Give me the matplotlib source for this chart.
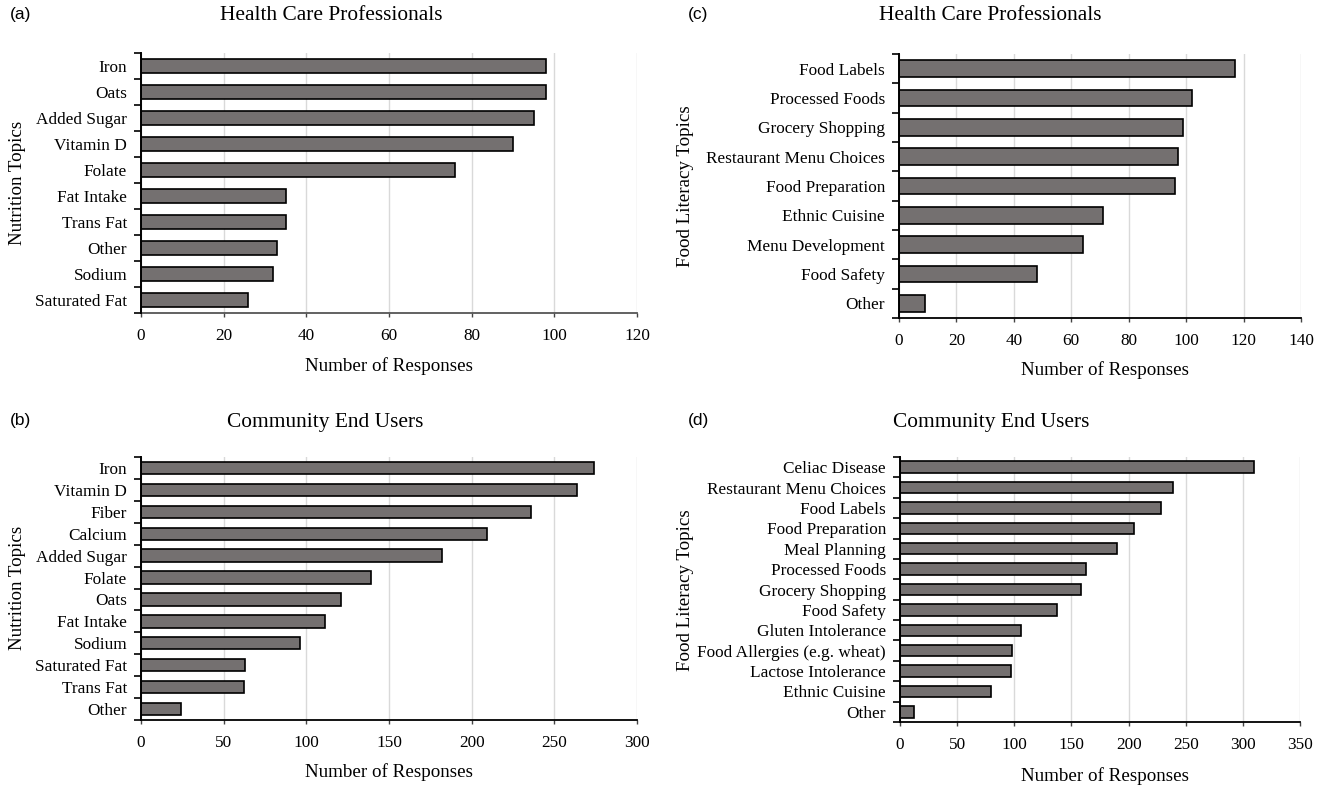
import matplotlib
matplotlib.use("Agg")
import matplotlib.pyplot as plt
import numpy as np

# ---------------- data ----------------
a_labels = ["Iron", "Oats", "Added Sugar", "Vitamin D", "Folate", "Fat Intake",
            "Trans Fat", "Other", "Sodium", "Saturated Fat"]
a_values = [98, 98, 95, 90, 76, 35, 35, 33, 32, 26]

b_labels = ["Iron", "Vitamin D", "Fiber", "Calcium", "Added Sugar", "Folate", "Oats",
            "Fat Intake", "Sodium", "Saturated Fat", "Trans Fat", "Other"]
b_values = [274, 264, 236, 209, 182, 139, 121, 111, 96, 63, 62, 24]

c_labels = ["Food Labels", "Processed Foods", "Grocery Shopping", "Restaurant Menu Choices",
            "Food Preparation", "Ethnic Cuisine", "Menu Development", "Food Safety", "Other"]
c_values = [117, 102, 99, 97, 96, 71, 64, 48, 9]

d_labels = ["Celiac Disease", "Restaurant Menu Choices", "Food Labels", "Food Preparation",
            "Meal Planning", "Processed Foods", "Grocery Shopping", "Food Safety",
            "Gluten Intolerance", "Food Allergies (e.g. wheat)", "Lactose Intolerance",
            "Ethnic Cuisine", "Other"]
d_values = [310, 239, 228, 205, 190, 163, 158, 137, 106, 98, 97, 80, 12]

W, H = 1332, 791
fig = plt.figure(figsize=(W / 100, H / 100), dpi=100)

SERIF = ["Liberation Serif", "DejaVu Serif"]
SANS = ["Liberation Sans", "DejaVu Sans"]
BAR = "#747070"
GRID = "#d9d9d9"


def fx(px):
    return px / W


def fy(py):
    return 1 - py / H


def panel(box, labels, values, xmax, step, title, title_xy, letter, letter_xy,
          ylabel, ylabel_xy, xlabel_xy, bottom_color="black"):
    l, t, r, b = box
    ax = fig.add_axes([fx(l), fy(b), fx(r) - fx(l), fy(t) - fy(b)])
    n = len(labels)
    y = np.arange(n)
    ax.barh(y, values, height=0.56, color=BAR, edgecolor="black", linewidth=1.2, zorder=3)
    ax.set_ylim(n - 0.5, -0.5)
    ax.set_xlim(0, xmax)
    ax.set_xticks(np.arange(0, xmax + 1, step))
    ax.set_yticks(y)
    ax.set_yticklabels(labels, fontfamily=SERIF, fontsize=12.4)
    ax.set_yticks(np.arange(-0.5, n, 1.0), minor=True)
    ax.tick_params(axis="y", which="major", length=0, pad=10)
    ax.tick_params(axis="y", which="minor", length=5, width=1.2, direction="out")
    ax.tick_params(axis="x", which="major", length=3, width=1, direction="out",
                   color="#444444", labelsize=12.4, pad=8)
    for lab in ax.get_xticklabels():
        lab.set_fontfamily(SERIF)
    ax.grid(axis="x", color=GRID, linewidth=1, zorder=0)
    ax.set_axisbelow(True)
    for s in ["top", "right"]:
        ax.spines[s].set_visible(False)
    ax.spines["left"].set_linewidth(1.4)
    ax.spines["bottom"].set_linewidth(1.3)
    ax.spines["bottom"].set_color(bottom_color)
    ax.spines["left"].set_zorder(4)
    fig.text(fx(title_xy[0]), fy(title_xy[1]), title, ha="center", va="center",
             fontfamily=SERIF, fontsize=15.4)
    fig.text(fx(letter_xy[0]), fy(letter_xy[1]), letter, ha="left", va="center",
             fontfamily=SANS, fontsize=12.5)
    fig.text(fx(ylabel_xy[0]), fy(ylabel_xy[1]), ylabel, ha="center", va="center",
             rotation=90, fontfamily=SERIF, fontsize=13.7)
    fig.text(fx(xlabel_xy[0]), fy(xlabel_xy[1]), "Number of Responses", ha="center",
             va="center", fontfamily=SERIF, fontsize=13.7)
    return ax


panel((141, 53, 637, 313), a_labels, a_values, 120, 20, "Health Care Professionals",
      (331, 16), "(a)", (10, 15), "Nutrition Topics", (18, 183), (389, 366),
      bottom_color="#555555")
panel((141, 457, 637, 720), b_labels, b_values, 300, 50, "Community End Users",
      (325, 422), "(b)", (10, 421), "Nutrition Topics", (18, 588), (389, 772))
panel((899, 54, 1301, 318), c_labels, c_values, 140, 20, "Health Care Professionals",
      (990, 16), "(c)", (688, 15), "Food Literacy Topics", (685, 186), (1105, 370))
panel((900, 457, 1300, 722), d_labels, d_values, 350, 50, "Community End Users",
      (991, 422), "(d)", (688, 421), "Food Literacy Topics", (685, 590), (1105, 776))

fig.savefig("out.png", dpi=100)
